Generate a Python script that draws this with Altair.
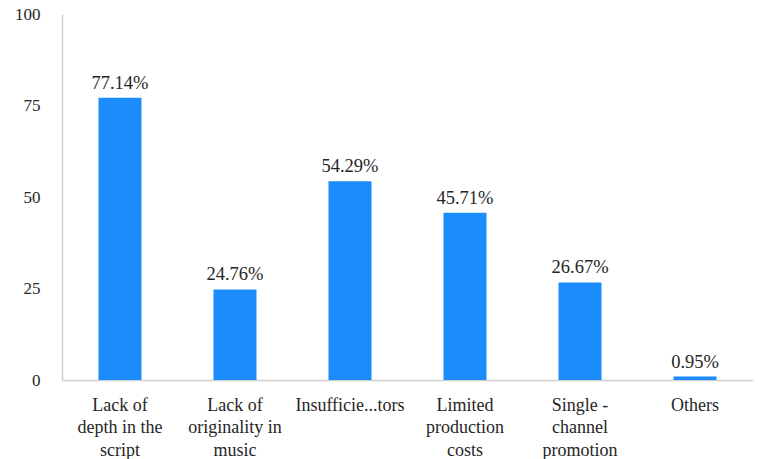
import altair as alt
import pandas as pd

# Reported problems and share of respondents (%)
categories = [
    "Lack of\ndepth in the\nscript",
    "Lack of\noriginality in\nmusic",
    "Insufficie...tors",
    "Limited\nproduction\ncosts",
    "Single -\nchannel\npromotion",
    "Others",
]
shares = [77.14, 24.76, 54.29, 45.71, 26.67, 0.95]
y_ticks = [0, 25, 50, 75, 100]

df = pd.DataFrame({"category": categories, "share": shares})
df["label"] = df["share"].map(lambda v: f"{v:.2f}%")

FONT = "Liberation Serif"
TEXT = "#262626"
BLUE = "#1A8CFB"

x_enc = alt.X(
    "category:N",
    sort=categories,
    scale=alt.Scale(paddingInner=0.626, paddingOuter=0.317),
    axis=alt.Axis(
        title=None,
        labelAngle=0,
        labelExpr="split(datum.label, '\\n')",
        labelFont=FONT,
        labelFontSize=18,
        labelColor=TEXT,
        labelLineHeight=22.5,
        labelPadding=16,
        labelBaseline="top",
        ticks=False,
        domainColor="#cfcfcf",
        domainWidth=1.5,
        labelLimit=200,
    ),
)

y_enc = alt.Y(
    "share:Q",
    scale=alt.Scale(domain=[0, 100], nice=False),
    axis=alt.Axis(
        title=None,
        values=y_ticks,
        grid=False,
        ticks=False,
        labelFont=FONT,
        labelFontSize=17,
        labelColor=TEXT,
        labelPadding=22,
        domainColor="#cfcfcf",
        domainWidth=1.5,
    ),
)

bars = alt.Chart(df).mark_bar(color=BLUE).encode(x=x_enc, y=y_enc)

labels = alt.Chart(df).mark_text(
    font=FONT, fontSize=18.5, color=TEXT, baseline="bottom", dy=-5
).encode(x=alt.X("category:N", sort=categories), y="share:Q", text="label:N")

chart = (
    alt.layer(bars, labels)
    .properties(
        width=691,
        height=366,
        autosize=alt.AutoSizeParams(type="none"),
        padding={"left": 62, "top": 14, "right": 5, "bottom": 79},
        background="white",
    )
    .configure(font=FONT)
    .configure_view(stroke=None)
)

chart.save("out.html", embed_options={"renderer": "svg", "actions": False})
